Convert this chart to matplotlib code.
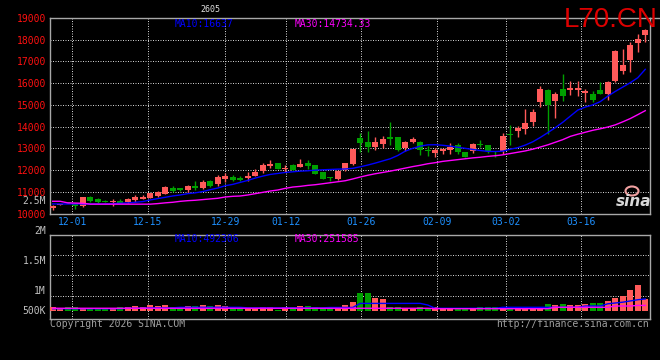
import matplotlib
matplotlib.use("Agg")
import matplotlib.pyplot as plt
from matplotlib.patches import Ellipse
from matplotlib.lines import Line2D

# daily candles, oldest first (80 sessions, 11-26 .. 03-27)
opens = [10260, 10390, 10500, 10440, 10333, 10745, 10654, 10590, 10550, 10594,
         10517, 10624, 10670, 10731, 10807, 10914, 11189, 11158, 11082, 11260,
         11172, 11477, 11370, 11584, 11691, 11645, 11615, 11722, 11950, 12179,
         12332, 12042, 12240, 12134, 12332, 12225, 11905, 11690, 11580, 12000,
         12270, 13461, 13309, 13049, 13217, 13500, 13522, 13003, 13278, 13309,
         12900, 12790, 12866, 12927, 13140, 12835, 12881, 13180, 13140, 12850,
         12900, 13620, 13796, 13872, 14223, 15124, 15704, 15200, 15750, 15704,
         15704, 15570, 15520, 15673, 15520, 16085, 16573, 17077, 17840, 18221]
highs = [10380, 10430, 10520, 10455, 10760, 10790, 10700, 10620, 10670, 10670,
         10700, 10853, 10830, 10960, 11030, 11280, 11265, 11189, 11326, 11480,
         11520, 11554, 11767, 11844, 11767, 11722, 11920, 12042, 12317, 12485,
         12345, 12225, 12290, 12500, 12454, 12240, 11920, 11700, 11990, 12330,
         12970, 13690, 13797, 13507, 13568, 14209, 13540, 13324, 13507, 13330,
         13110, 13004, 13034, 13263, 13263, 12850, 13263, 13370, 13160, 12880,
         13720, 14055, 14025, 14788, 14788, 15856, 15720, 15582, 16436, 16085,
         16115, 15750, 15627, 16040, 16085, 17505, 17580, 17916, 18267, 18496]
lows = [10170, 10380, 10470, 10210, 10300, 10530, 10500, 10530, 10365, 10480,
        10500, 10517, 10650, 10700, 10780, 10900, 10975, 11050, 10960, 11100,
        11140, 11203, 11279, 11462, 11493, 11508, 11493, 11706, 11844, 12088,
        12040, 11890, 11960, 12118, 12042, 11800, 11570, 11480, 11560, 11950,
        12250, 12850, 12836, 12927, 13019, 13140, 12900, 12896, 13260, 12698,
        12652, 12606, 12759, 12759, 12760, 12590, 12805, 13080, 12790, 12580,
        12740, 13140, 13537, 13644, 14025, 14910, 13645, 14407, 15200, 15475,
        15430, 15140, 15124, 15500, 15246, 16070, 16436, 16497, 17428, 17916]
closes = [10365, 10410, 10480, 10365, 10745, 10562, 10516, 10540, 10580, 10502,
          10670, 10777, 10777, 10929, 11006, 11235, 11036, 11067, 11265, 11160,
          11447, 11279, 11676, 11706, 11554, 11554, 11737, 11920, 12225, 12286,
          12057, 12103, 12012, 12286, 12179, 11815, 11584, 11630, 11960, 12317,
          12958, 13263, 13050, 13309, 13415, 13450, 12927, 13278, 13415, 12927,
          12880, 12911, 12957, 13065, 12850, 12606, 13187, 13140, 12881, 12830,
          13560, 13600, 13948, 14147, 14680, 15750, 14986, 15520, 15429, 15780,
          15770, 15620, 15246, 15520, 16040, 17489, 16848, 17764, 18023, 18450]
ma10 = [10440, 10440, 10440, 10440, 10440, 10440, 10440, 10440, 10456, 10472,
        10487, 10517, 10548, 10624, 10685, 10746, 10807, 10853, 10914, 10950,
        11010, 11096, 11172, 11279, 11340, 11432, 11523, 11630, 11721, 11798,
        11844, 11889, 11920, 11950, 11966, 11996, 12012, 12027, 12042, 12050,
        12080, 12150, 12230, 12320, 12420, 12520, 12670, 12870, 13000, 13100,
        13160, 13165, 13140, 13100, 13050, 13000, 12950, 12900, 12860, 12855,
        12870, 12960, 13030, 13150, 13300, 13500, 13720, 13950, 14200, 14480,
        14760, 14900, 15000, 15150, 15400, 15620, 15820, 16020, 16250, 16637]
ma30 = [10562, 10562, 10490, 10480, 10470, 10430, 10430, 10430, 10430, 10430,
        10430, 10430, 10430, 10430, 10456, 10490, 10517, 10560, 10590, 10610,
        10640, 10670, 10700, 10760, 10791, 10806, 10852, 10913, 10974, 11035,
        11081, 11157, 11218, 11249, 11294, 11325, 11370, 11416, 11462, 11508,
        11590, 11680, 11760, 11830, 11890, 11950, 12020, 12090, 12160, 12220,
        12290, 12340, 12400, 12440, 12480, 12520, 12560, 12590, 12630, 12660,
        12700, 12760, 12820, 12880, 12960, 13060, 13160, 13280, 13400, 13550,
        13650, 13740, 13830, 13900, 13980, 14080, 14220, 14370, 14550, 14734]

volume = [214000, 190000, 214000, 214000, 190000, 165000, 165000, 165000, 190000, 214000,
          214000, 246000, 230000, 270000, 246000, 270000, 214000, 214000, 246000, 246000,
          270000, 246000, 270000, 246000, 214000, 190000, 190000, 165000, 214000, 214000,
          140000, 214000, 214000, 246000, 246000, 214000, 190000, 214000, 230000, 270000,
          350000, 570000, 570000, 435000, 420000, 230000, 230000, 200000, 200000, 230000,
          200000, 210000, 190000, 190000, 170000, 190000, 190000, 230000, 230000, 210000,
          210000, 210000, 210000, 190000, 190000, 190000, 295000, 270000, 295000, 270000,
          270000, 295000, 330000, 330000, 370000, 440000, 490000, 640000, 760000, 420000]
vol_ma10 = [180000, 180000, 180000, 180000, 180000, 180000, 180000, 180000, 180000, 180000,
            190000, 190000, 190000, 200000, 200000, 200000, 200000, 214000, 214000, 214000,
            214000, 214000, 214000, 214000, 214000, 214000, 200000, 200000, 200000, 200000,
            200000, 200000, 200000, 200000, 200000, 200000, 200000, 210000, 210000, 210000,
            210000, 310000, 310000, 310000, 310000, 310000, 310000, 310000, 310000, 310000,
            270000, 190000, 190000, 190000, 190000, 190000, 190000, 190000, 190000, 190000,
            214000, 214000, 214000, 214000, 214000, 214000, 214000, 214000, 214000, 214000,
            214000, 246000, 246000, 246000, 300000, 320000, 340000, 370000, 400000, 420000]
vol_ma30 = [190000, 190000, 190000, 190000, 190000, 190000, 190000, 190000, 190000, 190000,
            190000, 190000, 190000, 190000, 190000, 190000, 190000, 190000, 190000, 190000,
            190000, 190000, 190000, 190000, 190000, 190000, 190000, 190000, 190000, 190000,
            190000, 190000, 190000, 190000, 190000, 190000, 190000, 190000, 190000, 190000,
            190000, 190000, 190000, 190000, 190000, 190000, 190000, 190000, 190000, 190000,
            190000, 180000, 180000, 180000, 180000, 180000, 180000, 180000, 180000, 180000,
            180000, 180000, 180000, 180000, 180000, 180000, 180000, 214000, 214000, 214000,
            214000, 214000, 214000, 214000, 214000, 246000, 246000, 246000, 260000, 260000]
vol_floor = 130000  # sina draws volume bars from this level

date_labels = ["12-01", "12-15", "12-29", "01-12", "01-26", "02-09", "03-02", "03-16"]
date_pos = [2.6, 12.7, 23.0, 31.1, 41.1, 51.2, 60.4, 70.4]
price_ticks = [10000, 11000, 12000, 13000, 14000, 15000, 16000, 17000, 18000, 19000]
vol_labels = ["2.5M", "2M", "1.5M", "1M", "500K"]

W, H = 660, 360
UP = "#ff5a5a"
DOWN = "#00a000"
GRID = "#cfcfcf"
FRAME = "#a8a8a8"
MONO = "DejaVu Sans Mono"


def fx(x):
    return x / W


def fy(y):
    return 1 - y / H


def style(ax):
    ax.set_facecolor("black")
    for s in ax.spines.values():
        s.set_color(FRAME)
        s.set_linewidth(1)
    ax.tick_params(length=0)
    ax.set_xlim(-0.36, 79.63)
    for p in date_pos:
        ax.axvline(p, color=GRID, lw=0.72, ls=(0, (1, 1.5)), zorder=1)


fig = plt.figure(figsize=(W / 100, H / 100), dpi=100, facecolor="black")
ax = fig.add_axes([fx(50), fy(213.5), fx(600), (213.5 - 18) / H])
axv = fig.add_axes([fx(50), fy(318.7), fx(600), (318.7 - 234.7) / H])
style(ax)
style(axv)

# top frame line runs on to the right edge
fig.add_artist(Line2D([fx(650), 1], [fy(18), fy(18)], color=FRAME, lw=1))

# price panel
ax.set_ylim(10000, 19000)
ax.set_yticks(price_ticks)
ax.set_yticklabels([str(t) for t in price_ticks], color="#ff1010",
                   family=MONO, fontsize=7)
ax.tick_params(axis="y", pad=3)
for t in price_ticks[1:-1]:
    ax.axhline(t, color=GRID, lw=0.72, ls=(0, (1, 1.5)), zorder=1)
ax.set_xticks(date_pos)
ax.set_xticklabels(date_labels, color="#1e90ff", family=MONO, fontsize=7)
ax.tick_params(axis="x", pad=2.5)

for i in range(len(opens)):
    o, h, l, c = opens[i], highs[i], lows[i], closes[i]
    col = UP if c >= o else DOWN
    ax.vlines(i, l, h, color=col, lw=1, zorder=3)
    body = max(abs(c - o), 45)
    ax.bar(i, body, bottom=min(o, c), width=0.76, color=col, lw=0, zorder=4)

x = list(range(len(closes)))
ax.plot(x, ma10, color="#0000ff", lw=1, zorder=5)
ax.plot(x, ma30, color="#ff00ff", lw=1, zorder=5)

# volume panel
axv.set_ylim(-66500, 2000000)
axv.set_yticks([])
axv.set_xticks([])
for t in [500000, 1000000, 1500000]:
    axv.axhline(t, color=GRID, lw=0.72, ls=(0, (1, 1.5)), zorder=1)
vcols = [UP if closes[i] >= opens[i] else DOWN for i in x]
axv.bar(x, [v - vol_floor for v in volume], bottom=vol_floor, width=0.76,
        color=vcols, lw=0, zorder=3)
axv.plot(x, vol_ma10, color="#0000ff", lw=1, zorder=4)
axv.plot(x, vol_ma30, color="#ff00ff", lw=1, zorder=4)

# texts
for lab, y in zip(vol_labels, [201.5, 230.7, 260.7, 290.7, 310.7]):
    fig.text(fx(46), fy(y), lab, color="#c0c0c0", family=MONO, fontsize=7,
             ha="right", va="center")
fig.text(fx(175), fy(24), "MA10:16637", color="#0000ff", family=MONO,
         fontsize=7, va="center")
fig.text(fx(295), fy(24), "MA30:14734.33", color="#ff00ff", family=MONO,
         fontsize=7, va="center")
fig.text(fx(200), fy(9), "2605", color="#e0e0e0", family=MONO, fontsize=6,
         va="center")
fig.text(fx(175), fy(238.7), "MA10:492306", color="#0000ff", family=MONO,
         fontsize=7, va="center")
fig.text(fx(295), fy(238.7), "MA30:251585", color="#ff00ff", family=MONO,
         fontsize=7, va="center")
fig.text(fx(50), fy(323.7), "Copyright 2026 SINA.COM", color="#a0a0a0",
         family=MONO, fontsize=7, va="center")
fig.text(fx(649), fy(323.7), "http://finance.sina.com.cn", color="#a0a0a0",
         family=MONO, fontsize=7, va="center", ha="right")
fig.text(fx(564), fy(26.7), "L70.CN", color="#dd0000",
         family="Liberation Sans", fontsize=20, va="baseline")

# sina logo
fig.patches.append(Ellipse((fx(632), fy(191)), fx(13), 9 / H, fc="none",
                           ec="#f0a0a0", lw=1.5, transform=fig.transFigure))
fig.text(fx(634), fy(202), "sina", color="#d8d8d8", fontsize=11,
         style="italic", weight="bold", ha="center", va="center")

fig.savefig("out.png", dpi=100, facecolor="black")
